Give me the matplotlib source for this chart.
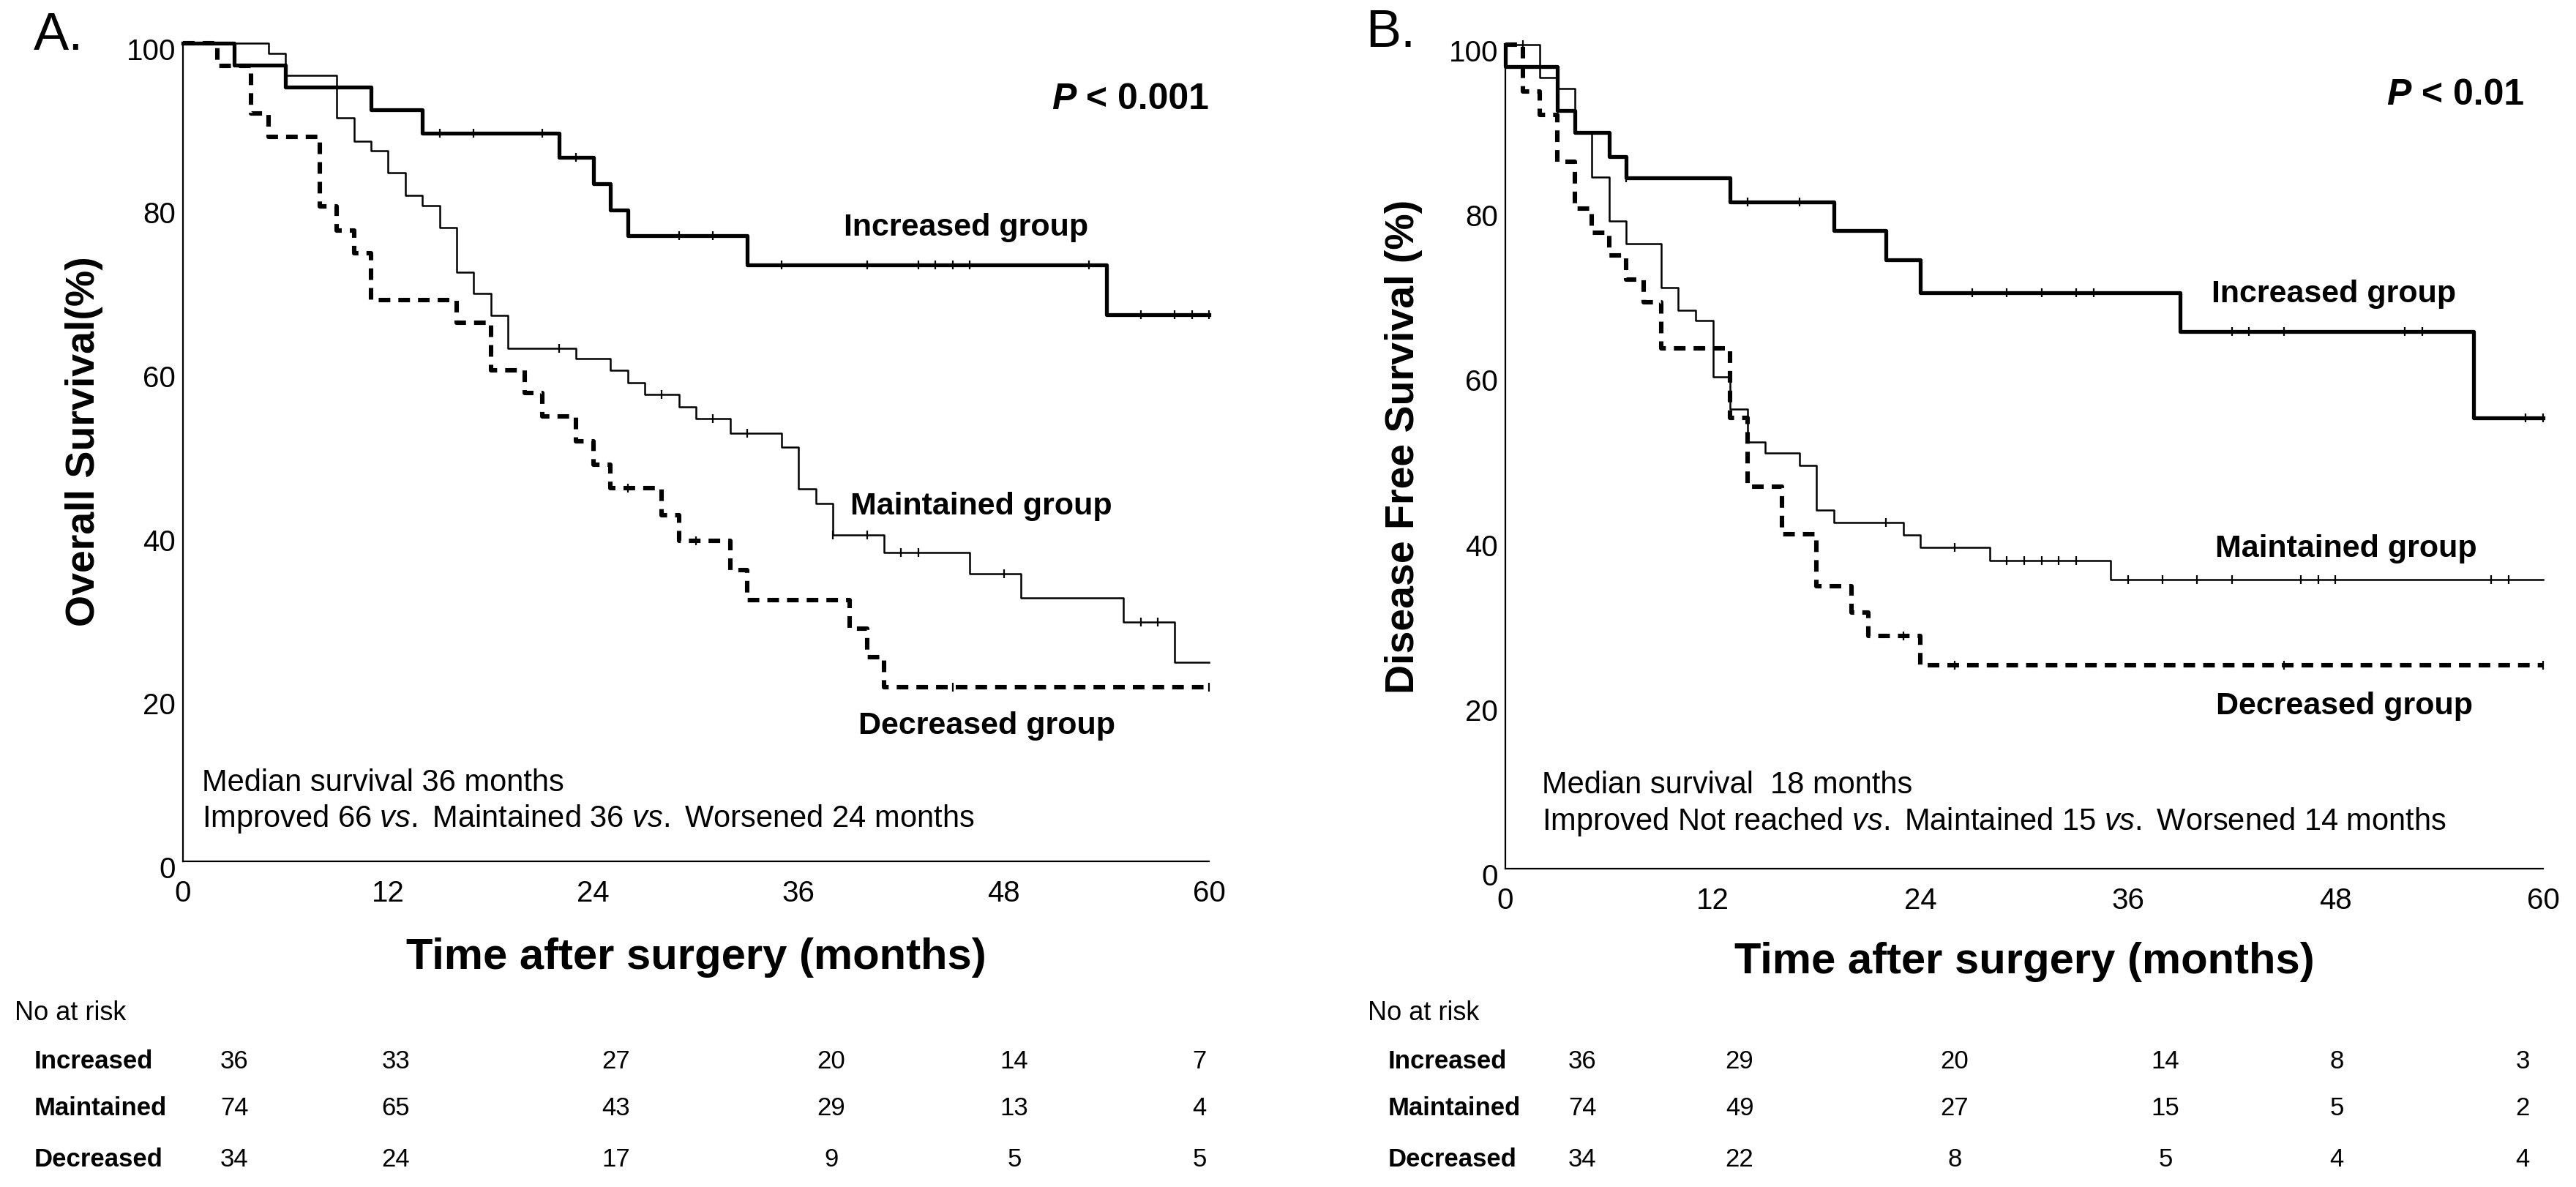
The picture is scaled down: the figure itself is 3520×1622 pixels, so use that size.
import numpy as np
import matplotlib
matplotlib.use('Agg')
import matplotlib.pyplot as plt
from matplotlib.transforms import ScaledTranslation

plt.rcParams['font.family'] = ['Liberation Sans', 'DejaVu Sans']
plt.rcParams['mathtext.fontset'] = 'custom'
plt.rcParams['mathtext.rm'] = 'Liberation Sans'
plt.rcParams['mathtext.it'] = 'Liberation Sans:italic'
plt.rcParams['mathtext.bf'] = 'Liberation Sans:bold'

# ---- data: panel A, overall survival (event months / survival % after each step)
inc_a_t = [0, 3, 6, 11, 14, 22, 24, 25, 26, 33, 54]
inc_a_s = [100, 97.3, 94.6, 91.8, 89.0, 86.0, 82.8, 79.6, 76.4, 72.9, 66.8]
inc_a_cens = [15, 17, 21, 23, 29, 31, 35, 40, 43, 44, 45, 46, 53, 56, 58, 59, 60]

mai_a_t = [0, 5, 6, 9, 10, 11, 12, 13, 14, 15, 16, 17, 18, 19, 23, 25, 26, 27,
           29, 30, 32, 35, 36, 37, 38, 41, 46, 49, 55, 58]
mai_a_s = [100, 98.7, 96.0, 90.8, 88.0, 86.8, 84.1, 81.4, 80.1, 77.4, 72.0, 69.4,
           66.7, 62.7, 61.4, 60.0, 58.5, 57.0, 55.5, 54.1, 52.3, 50.6, 45.5, 43.7,
           39.9, 37.7, 35.1, 32.2, 29.2, 24.3]
mai_a_cens = [22, 28, 31, 33, 38, 40, 42, 43, 48, 56, 57]

dec_a_t = [0, 2, 4, 5, 8, 9, 10, 11, 16, 18, 20, 21, 23, 24, 25, 28, 29, 32, 33,
           39, 40, 41]
dec_a_s = [100, 97.2, 91.4, 88.5, 80.0, 77.1, 74.3, 68.6, 65.8, 60.0, 57.2, 54.4,
           51.3, 48.5, 45.6, 42.3, 39.2, 35.6, 31.9, 28.4, 24.9, 21.3]
dec_a_cens = [26, 30, 45, 60]

# ---- data: panel B, disease free survival
inc_b_t = [0, 0, 3, 4, 6, 7, 13, 19, 22, 24, 39, 56]
inc_b_s = [100, 97.3, 92.0, 89.3, 86.4, 83.8, 80.9, 77.4, 73.9, 69.9, 65.2, 54.7]
inc_b_cens = [7, 14, 17, 27, 29, 31, 33, 34, 42, 43, 45, 52, 53, 59, 60]

mai_b_t = [0, 2, 3, 4, 5, 6, 7, 9, 10, 11, 12, 13, 14, 15, 17, 18, 19, 23, 24, 28, 35]
mai_b_s = [100, 96.0, 94.7, 89.3, 83.9, 78.6, 75.8, 70.5, 67.8, 66.5, 59.7, 55.8,
           51.8, 50.4, 48.9, 43.5, 42.0, 40.5, 39.0, 37.4, 35.1]
mai_b_cens = [1, 22, 26, 29, 30, 31, 32, 33, 36, 38, 40, 42, 46, 47, 48, 57, 58]

dec_b_t = [0, 1, 2, 3, 4, 5, 6, 7, 8, 9, 13, 14, 16, 18, 20, 21, 24]
dec_b_s = [100, 94.3, 91.5, 85.8, 80.1, 77.2, 74.4, 71.5, 68.7, 63.1, 54.7, 46.4,
           40.6, 34.3, 31.1, 28.2, 24.7]
dec_b_cens = [23, 26, 45, 60]

# ---- numbers at risk
groups = ['Increased', 'Maintained', 'Decreased']
risk_a_inc = [36, 33, 27, 20, 14, 7]
risk_a_mai = [74, 65, 43, 29, 13, 4]
risk_a_dec = [34, 24, 17, 9, 5, 5]
risk_b_inc = [36, 29, 20, 14, 8, 3]
risk_b_mai = [74, 49, 27, 15, 5, 2]
risk_b_dec = [34, 22, 8, 5, 4, 4]

xticks = [0, 12, 24, 36, 48, 60]
yticks = [0, 20, 40, 60, 80, 100]

# ---- figure / layout in pixels
W, H = 3520, 1622
DPI = 200
fig = plt.figure(figsize=(W / DPI, H / DPI), dpi=DPI)


def fx(x):
    return x / W


def fy(y):
    return 1 - y / H


STYLE = {
    'Increased': dict(color='black', lw=1.9, ls='-'),
    'Maintained': dict(color='black', lw=0.9, ls='-'),
    'Decreased': dict(color='black', lw=2.2, ls=(0, (2.6, 1.8))),
}


def km(ax, t, s, cens, style):
    tt = np.array(list(t) + [60])
    ss = np.array(list(s) + [s[-1]])
    ax.step(tt, ss, where='post', clip_on=False, **style)
    idx = np.searchsorted(tt[:-1], cens, side='right') - 1
    ax.plot(cens, ss[idx], ls='none', marker='|', ms=4.5, mew=0.8,
            color='black', clip_on=False)


def setup(ax):
    ax.set_xlim(0, 60)
    ax.set_ylim(0, 100)
    ax.set_xticks(xticks)
    ax.set_yticks(yticks)
    for sp in ['top', 'right']:
        ax.spines[sp].set_visible(False)
    for sp in ['left', 'bottom']:
        ax.spines[sp].set_linewidth(0.8)
    ax.tick_params(axis='both', length=0, labelsize=14.5)
    ax.tick_params(axis='x', pad=9)
    ax.tick_params(axis='y', pad=3.6)
    off = ScaledTranslation(0, -8 / DPI, fig.dpi_scale_trans)
    for lab in ax.get_yticklabels():
        lab.set_transform(lab.get_transform() + off)


def p_value(ax, x, y, txt):
    t1 = ax.text(x, y, txt, ha='right', va='center', fontsize=18, fontweight='bold')
    ax.annotate('P', xy=(0, 0.5), xycoords=t1, ha='right', va='center',
                fontsize=18, fontweight='bold', style='italic')


def risk_table(x_no, x_lab, cols, rows):
    fig.text(fx(x_no), fy(1385), 'No at risk', fontsize=13, va='center', ha='left')
    for yy, g, vals in zip([1450, 1515, 1585], groups, rows):
        fig.text(fx(x_lab), fy(yy), g, fontsize=12.5, fontweight='bold',
                 va='center', ha='left')
        for xc, v in zip(cols, vals):
            fig.text(fx(xc), fy(yy), str(v), fontsize=12.5, va='center', ha='center')


# ---------------- panel A
axA = fig.add_axes([250 / W, 1 - 1177 / H, 1402 / W, 1118.5 / H])
setup(axA)
km(axA, inc_a_t, inc_a_s, inc_a_cens, STYLE['Increased'])
km(axA, mai_a_t, mai_a_s, mai_a_cens, STYLE['Maintained'])
km(axA, dec_a_t, dec_a_s, dec_a_cens, STYLE['Decreased'])
p_value(axA, 60, 93.1, ' < 0.001')
axA.text(45.8, 77.4, 'Increased group', ha='center', va='center', fontsize=15.5, fontweight='bold')
axA.text(46.7, 43.4, 'Maintained group', ha='center', va='center', fontsize=15.5, fontweight='bold')
axA.text(47.0, 16.5, 'Decreased group', ha='center', va='center', fontsize=15.5, fontweight='bold')
axA.text(1.1, 9.6, 'Median survival 36 months', ha='left', va='center', fontsize=15)
axA.text(1.1, 5.2, r'Improved 66 $\it{vs.}$ Maintained 36 $\it{vs.}$ Worsened 24 months',
         ha='left', va='center', fontsize=15)
fig.text(fx(80), fy(49), 'A.', fontsize=26, ha='center', va='center')
fig.text(fx(115), fy(603), 'Overall Survival(%)', rotation=90, fontsize=20,
         fontweight='bold', ha='center', va='center')
fig.text(fx(951), fy(1308), 'Time after surgery (months)', fontsize=21.5,
         fontweight='bold', ha='center', va='center')
risk_table(20, 47, [320, 541, 842, 1136, 1386, 1639], [risk_a_inc, risk_a_mai, risk_a_dec])

# ---------------- panel B
axB = fig.add_axes([2057 / W, 1 - 1187 / H, 1418 / W, 1126 / H])
setup(axB)
km(axB, inc_b_t, inc_b_s, inc_b_cens, STYLE['Increased'])
km(axB, mai_b_t, mai_b_s, mai_b_cens, STYLE['Maintained'])
km(axB, dec_b_t, dec_b_s, dec_b_cens, STYLE['Decreased'])
p_value(axB, 58.9, 93.9, ' < 0.01')
axB.text(47.9, 69.7, 'Increased group', ha='center', va='center', fontsize=15.5, fontweight='bold')
axB.text(48.6, 38.8, 'Maintained group', ha='center', va='center', fontsize=15.5, fontweight='bold')
axB.text(48.5, 19.7, 'Decreased group', ha='center', va='center', fontsize=15.5, fontweight='bold')
axB.text(2.1, 10.1, 'Median survival  18 months', ha='left', va='center', fontsize=15)
axB.text(2.1, 5.7, r'Improved Not reached $\it{vs.}$ Maintained 15 $\it{vs.}$ Worsened 14 months',
         ha='left', va='center', fontsize=15)
fig.text(fx(1900), fy(46), 'B.', fontsize=26, ha='center', va='center')
fig.text(fx(1918), fy(610), 'Disease Free Survival (%)', rotation=90, fontsize=20,
         fontweight='bold', ha='center', va='center')
fig.text(fx(2766), fy(1315), 'Time after surgery (months)', fontsize=21.5,
         fontweight='bold', ha='center', va='center')
risk_table(1869, 1897, [2162, 2377, 2671, 2959, 3193, 3447], [risk_b_inc, risk_b_mai, risk_b_dec])

fig.savefig('out.png', dpi=DPI)
